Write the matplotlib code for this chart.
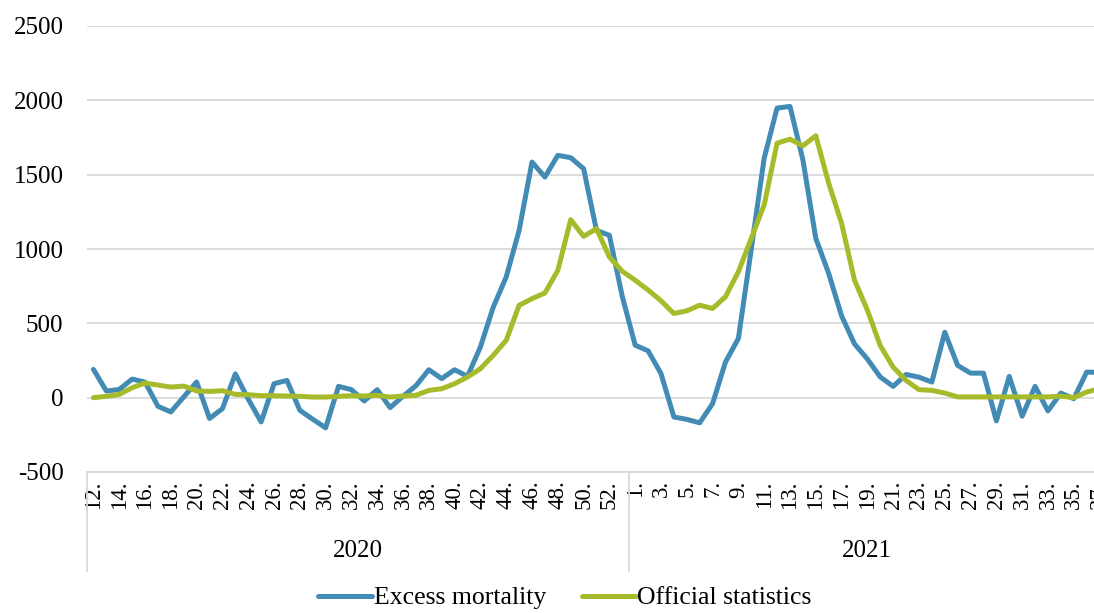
import matplotlib
matplotlib.use("Agg")
import matplotlib.pyplot as plt

plt.rcParams['font.family'] = ['Liberation Serif', 'DejaVu Serif']
plt.rcParams['axes.unicode_minus'] = False

# week numbers per year
weeks_2020 = list(range(12, 54))
weeks_2021 = list(range(1, 38))
years = ['2020', '2021']

excess = [190, 45, 55, 125, 105, -58, -96, 5, 105, -140,
          -74, 160, -10, -163, 94, 116, -85, -145, -203, 76,
          54, -22, 54, -67, 10, 80, 188, 128, 188, 143,
          341, 610, 812, 1125, 1585, 1484, 1630, 1614, 1540, 1125,
          1092, 680,
          353, 315, 162, -130, -146, -169, -40, 240, 398, 1000,
          1611, 1948, 1959, 1600, 1072, 836, 550, 362, 260, 139,
          76, 156, 138, 105, 440, 217, 165, 165, -156, 143,
          -125, 76, -89, 31, -7, 172, 170]

official = [0, 9, 22, 67, 98, 85, 71, 78, 45, 42,
            47, 22, 20, 13, 13, 11, 9, 4, 4, 9,
            13, 11, 16, 4, 11, 16, 49, 60, 94, 139,
            195, 285, 386, 621, 666, 704, 856, 1197, 1085, 1137,
            946, 850,
            790, 724, 652, 566, 584, 622, 600, 679, 847, 1072,
            1297, 1712, 1739, 1694, 1762, 1443, 1173, 791, 589, 350,
            205, 116, 54, 49, 31, 5, 5, 5, 5, 5,
            5, 5, 5, 10, 0, 38, 60]

blue = '#428bb5'
green = '#a7bb2a'
grid = '#d9d9d9'

week_labels = [f'{w}.' for w in weeks_2020 + weeks_2021]
n = len(week_labels)
x = list(range(n))

fig = plt.figure(figsize=(10.94, 6.13), dpi=100)
# right edge goes past the figure, like the cropped original
ax = fig.add_axes([87 / 1094, 141 / 613, 1019 / 1094, 446 / 613])

ax.plot(x, excess, color=blue, lw=3.6, solid_joinstyle='round',
        solid_capstyle='round', label='Excess mortality', zorder=3)
ax.plot(x, official, color=green, lw=3.6, solid_joinstyle='round',
        solid_capstyle='round', label='Official statistics', zorder=4)

ax.set_xlim(-0.5, n - 0.5)
ax.set_ylim(-500, 2500)
ax.set_yticks(range(-500, 2501, 500))
ax.yaxis.grid(True, color=grid, lw=1.3)
ax.set_axisbelow(True)
for s in ['top', 'right', 'left']:
    ax.spines[s].set_visible(False)
ax.spines['bottom'].set_color(grid)
ax.spines['bottom'].set_linewidth(1.3)

ax.set_xticks(x[::2])
ax.set_xticklabels(week_labels[::2], rotation=90, fontsize=16.5)
ax.tick_params(axis='x', length=0, pad=6)
ax.tick_params(axis='y', length=0, pad=17, labelsize=18)

# year boxes under the week labels
n20 = len(weeks_2020)
tr = ax.get_xaxis_transform()
for xb in [-0.5, n20 - 0.5, n - 0.5]:
    ax.plot([xb, xb], [0, -0.222], color=grid, lw=1.3, transform=tr, clip_on=False)
ax.text((n20 - 1) / 2, -0.177, years[0], transform=tr, ha='center', va='center', fontsize=18)
ax.text((n20 - 1 + n) / 2, -0.177, years[1], transform=tr, ha='center', va='center', fontsize=18)

fig.legend(loc='center', bbox_to_anchor=(565 / 1094, 1 - 598 / 613), ncol=2,
           frameon=False, fontsize=18.5, handlelength=2.1, handletextpad=0.05,
           columnspacing=1.4, borderpad=0)

fig.savefig('out.png', dpi=100)
